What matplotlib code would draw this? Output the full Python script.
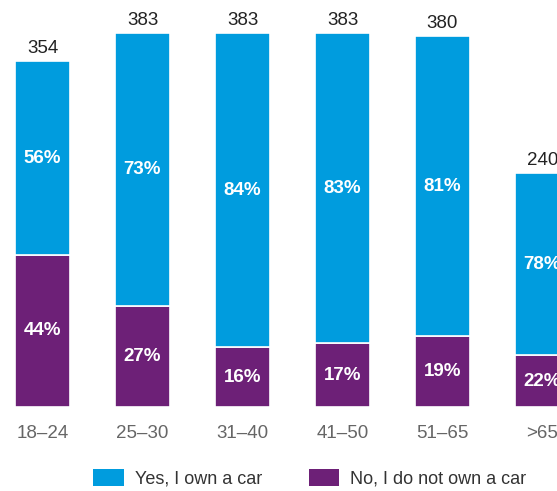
import matplotlib.pyplot as plt
from matplotlib.patches import Patch

# 연령대별 자동차 보유 여부
ages = ['18–24', '25–30', '31–40', '41–50', '51–65', '>65']
totals = [354, 383, 383, 383, 380, 240]
yes_pct = [56, 73, 84, 83, 81, 78]
no_pct = [44, 27, 16, 17, 19, 22]

blue = '#009cde'
purple = '#6d2077'

plt.rcParams['font.family'] = ['Liberation Sans', 'DejaVu Sans']

fig = plt.figure(figsize=(5.57, 4.91), dpi=100)
ax = fig.add_axes([0, 84/491, 1, 407/491])

x = list(range(len(ages)))
no_h = [t*p/100 for t, p in zip(totals, no_pct)]
yes_h = [t*p/100 for t, p in zip(totals, yes_pct)]

ax.bar(x, no_h, width=0.55, color=purple, edgecolor='white', linewidth=1.2)
ax.bar(x, yes_h, bottom=no_h, width=0.55, color=blue, edgecolor='white', linewidth=1.2)

for i in x:
    # 총 인원 (막대 위)
    ax.text(i, totals[i] + 4, str(totals[i]), ha='center', va='bottom',
            fontsize=13.5, color='#222222')
    ax.text(i, no_h[i] + yes_h[i]/2, f'{yes_pct[i]}%', ha='center', va='center',
            fontsize=13.5, color='white', fontweight='bold')
    ax.text(i, no_h[i]/2, f'{no_pct[i]}%', ha='center', va='center',
            fontsize=13.5, color='white', fontweight='bold')
    ax.text(i, -18, ages[i], ha='center', va='top', fontsize=13.5, color='#666666')

ax.set_xlim(-0.425, -0.425 + 5.57)
ax.set_ylim(0, 407/374*383)
ax.axis('off')

handles = [Patch(facecolor=blue, label='Yes, I own a car'),
           Patch(facecolor=purple, label='No, I do not own a car')]
fig.legend(handles=handles, loc='center', bbox_to_anchor=(0.556, 13/491), ncol=2,
           frameon=False, fontsize=13, handlelength=1.7, handleheight=1.1,
           handletextpad=0.6, columnspacing=2.6, labelcolor='#333333')

fig.savefig('out.png', dpi=100)
